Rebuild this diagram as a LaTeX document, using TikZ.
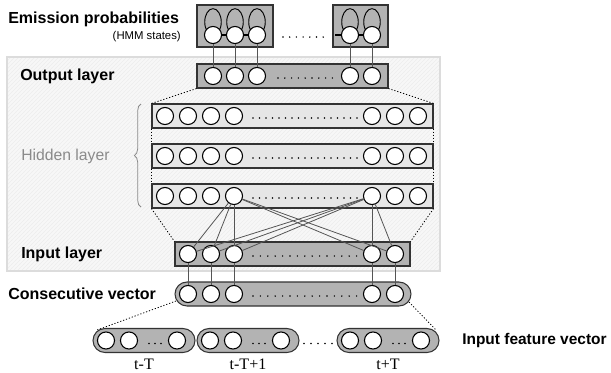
\documentclass[tikz,border=0pt]{standalone}
\usepackage{fontspec}
\setmainfont{Liberation Serif}
\setsansfont{Liberation Sans}
\usetikzlibrary{patterns,decorations.pathreplacing}

\definecolor{boxgray}{HTML}{B3B3B3}
\definecolor{hidgray}{HTML}{E6E6E6}
\definecolor{edgecol}{HTML}{333333}
\definecolor{wirecol}{HTML}{555555}
\definecolor{panelfill}{HTML}{F7F7F7}
\definecolor{panelline}{HTML}{DCDCDC}
\definecolor{labelgray}{HTML}{8A8A8A}

\begin{document}
\begin{tikzpicture}[x=0.75pt,y=-0.75pt,
  sz/.style 2 args={minimum width=#1*0.75pt, minimum height=#2*0.75pt},
  unit/.style={circle, draw=black, fill=white, line width=0.8pt, minimum size=12.8pt, inner sep=0pt},
  layerbox/.style={draw=edgecol, line width=0.8pt, fill=boxgray, inner sep=0pt},
  hidbox/.style={layerbox, fill=hidgray},
  pillbox/.style={layerbox, rounded corners=9pt},
  wire/.style={draw=wirecol, line width=0.6pt},
  guide/.style={draw=black, line width=0.6pt, dash pattern=on 0.9pt off 1.4pt},
  title/.style={font=\sffamily\bfseries\fontsize{12}{14}\selectfont, inner sep=0pt, anchor=west},
  tick/.style={fill=black},
]
\useasboundingbox (0,0) rectangle (611,372);

% shaded panel behind the network layers
\fill[panelfill] (7,57) rectangle (440,271);
\fill[pattern=north east lines, pattern color=black!7] (7,57) rectangle (440,271);
\draw[panelline, line width=1.1pt] (7,57) rectangle (440,271);

% ---------------- emission probabilities (HMM states)
\node[layerbox, sz={76}{42}] (emL) at (235,26) {};
\node[layerbox, sz={55}{42}] (emR) at (360.5,26) {};
\foreach \x in {213,235,257,350,372}
  \draw[black, line width=0.7pt] (\x,22) ellipse [x radius=6.2pt, y radius=10pt];
\foreach \n/\x in {1/213,2/235,3/257,4/350,5/372}
  \node[unit] (e\n) at (\x,35) {};
\coordinate (echain) at (335,35);
\draw[black, line width=0.8pt] (e1) -- (e2);
\draw[black, line width=0.8pt] (e2) -- (e3);
\draw[black, line width=0.8pt] (echain) -- (e4);
\draw[black, line width=0.8pt] (e4) -- (e5);
\foreach \i in {0,...,6} \fill[tick] (283+\i*6.7,37) circle[radius=0.6pt];

% ---------------- output layer
\node[layerbox, sz={191}{24}] (out) at (292.5,76) {};
\foreach \n/\x in {1/213,2/235,3/257,4/350,5/372}
  \node[unit] (o\n) at (\x,76) {};
\foreach \i in {0,...,8} \fill[tick] (278+\i*6.8,78) circle[radius=0.6pt];
\foreach \n in {1,...,5} \draw[wire] (o\n) -- (e\n);

% ---------------- hidden layers
\foreach \r/\y in {1/116,2/156,3/196}{
  \node[hidbox, sz={281}{24}] (h\r) at (292.5,\y) {};
  \foreach \n/\x in {1/165,2/188,3/211,4/234,5/372,6/395,7/418}
    \node[unit] (h\r c\n) at (\x,\y) {};
  \foreach \i in {0,...,16} \fill[tick] (253+\i*6.5,\y+2) circle[radius=0.6pt];
}

% ---------------- input layer
\node[layerbox, sz={235}{24}] (inp) at (292.5,254) {};
\foreach \n/\x in {1/188,2/211,3/234,4/372,5/395}
  \node[unit] (i\n) at (\x,254) {};
\foreach \i in {0,...,14} \fill[tick] (253+\i*7.4,256) circle[radius=0.6pt];

% hidden-to-input weights (shown for two hidden units)
\foreach \n in {1,...,5}{
  \draw[wire] (h3c4) -- (i\n);
  \draw[wire] (h3c5) -- (i\n);
}

% ---------------- consecutive vector
\node[pillbox, sz={236}{24}] (cons) at (293,294) {};
\foreach \n/\x in {1/188,2/211,3/234,4/372,5/395}
  \node[unit] (c\n) at (\x,294) {};
\foreach \i in {0,...,14} \fill[tick] (253+\i*7.4,296) circle[radius=0.6pt];
\foreach \n in {1,...,5} \draw[wire] (i\n) -- (c\n);

% ---------------- input feature vectors
\foreach \p/\cx/\lab in {1/144/{t-T},2/248/{t-T+1},3/388/{t+T}}{
  \node[pillbox, sz={102}{24}] (p\p) at (\cx,340.5) {};
  \node[unit] (p\p a) at (\cx-38,340.5) {};
  \node[unit] (p\p b) at (\cx-15,340.5) {};
  \node[unit] (p\p c) at (\cx+33,340.5) {};
  \foreach \i in {0,1,2} \fill[tick] (\cx+5+\i*6,343.5) circle[radius=0.6pt];
  \node[inner sep=0pt, font=\fontsize{12}{14}\selectfont] (t\p) at (\cx,364) {\lab};
}
\foreach \i in {0,...,4} \fill[tick] (304+\i*7,343.5) circle[radius=0.6pt];

% ---------------- dotted guides between layers
\draw[guide] (out.south west) -- (h1.north west);
\draw[guide] (out.south east) -- (h1.north east);
\draw[guide] (h1.south west) -- (h2.north west);
\draw[guide] (h2.south west) -- (h3.north west);
\draw[guide] (h1.south east) -- (h2.north east);
\draw[guide] (h2.south east) -- (h3.north east);
\draw[guide] (h3.south west) -- (inp.north west);
\draw[guide] (h3.south east) -- (inp.north east);
\coordinate (consL) at (176,301);
\coordinate (consR) at (409,302);
\coordinate (p1top) at (97,330);
\coordinate (p3top) at (436,330);
\draw[guide] (consL) -- (p1top);
\draw[guide] (consR) -- (p3top);

% brace grouping the hidden layers
\draw[labelgray, line width=0.6pt, decorate, decoration={brace, amplitude=5pt}] (141,207) -- (141,104);

% ---------------- labels
\node[title] (lemis) at (8,19) {Emission probabilities};
\node[inner sep=0pt, anchor=east, font=\sffamily\fontsize{8.5}{10}\selectfont] (lhmm) at (181,37) {(HMM states)};
\node[title] (lout) at (20,76) {Output layer};
\node[inner sep=0pt, anchor=west, text=labelgray, font=\sffamily\fontsize{11.8}{14}\selectfont] (lhid) at (21,156) {Hidden layer};
\node[title] (lin) at (21,254) {Input layer};
\node[title] (lcons) at (8,294) {Consecutive vector};
\node[title, font=\sffamily\bfseries\fontsize{11.6}{14}\selectfont] (lfeat) at (462,340) {Input feature vector};
\end{tikzpicture}
\end{document}
